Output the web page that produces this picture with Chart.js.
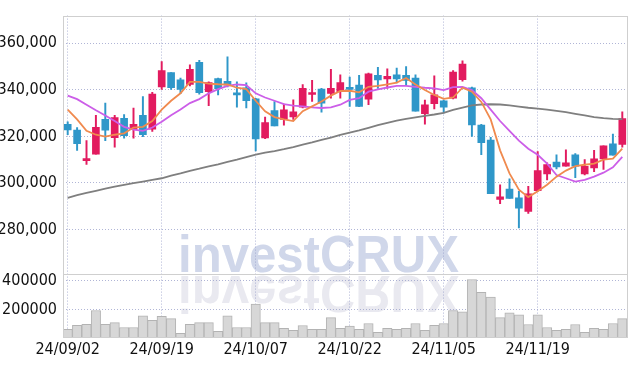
<!DOCTYPE html>
<html>
<head>
<meta charset="utf-8">
<script src="https://cdn.jsdelivr.net/npm/chart.js@4/dist/chart.umd.min.js"></script>
<style>
  html, body { margin: 0; padding: 0; background: #fff; }
  #wrap { width: 637px; height: 366px; position: relative; }
</style>
</head>
<body>
<div id="wrap"><canvas id="stockChart"></canvas></div>
<script>
// trading days shown on the chart
const dates = [
  "24/09/02", "24/09/03", "24/09/04", "24/09/05", "24/09/06", "24/09/09", "24/09/10", "24/09/11", "24/09/12", "24/09/13",
  "24/09/19", "24/09/20", "24/09/23", "24/09/24", "24/09/25", "24/09/26", "24/09/27", "24/09/30", "24/10/02", "24/10/04",
  "24/10/07", "24/10/08", "24/10/10", "24/10/11", "24/10/14", "24/10/15", "24/10/16", "24/10/17", "24/10/18", "24/10/21",
  "24/10/22", "24/10/23", "24/10/24", "24/10/25", "24/10/28", "24/10/29", "24/10/30", "24/10/31", "24/11/01", "24/11/04",
  "24/11/05", "24/11/06", "24/11/07", "24/11/08", "24/11/11", "24/11/12", "24/11/13", "24/11/14", "24/11/15", "24/11/18",
  "24/11/19", "24/11/20", "24/11/21", "24/11/22", "24/11/25", "24/11/26", "24/11/27", "24/11/28", "24/11/29", "24/12/02"
];

const openP = [
  325200, 322700, 309600, 312300, 327300, 319400, 327700, 322900, 329000, 323100,
  341300, 347400, 344300, 342300, 351800, 339200, 344800, 343700, 338500, 340900,
  336100, 319300, 331100, 327300, 328400, 332500, 338000, 340300, 338500, 339200,
  340600, 342000, 336000, 346200, 344700, 346500, 346200, 345100, 329800, 334000,
  335300, 336400, 344400, 340900, 324800, 318400, 292900, 297400, 293600, 287700,
  296700, 303900, 309000, 307200, 312100, 303900, 306400, 310300, 316800, 316500
];
const highP = [
  326300, 323800, 318200, 329000, 334300, 329000, 329400, 332200, 337100, 338900,
  352100, 347400, 345100, 350700, 352700, 343400, 345100, 354200, 343400, 343000,
  336400, 328300, 335000, 333900, 335700, 342300, 344100, 340600, 348800, 346500,
  345500, 346200, 347200, 349700, 349000, 349300, 350000, 346500, 335600, 346000,
  335600, 348300, 352500, 341200, 325200, 319600, 299200, 301700, 296400, 298500,
  313500, 308600, 312100, 314200, 312600, 310000, 314000, 315900, 321000, 330500
];
const lowP = [
  320700, 314000, 307900, 312300, 318200, 315400, 319200, 319200, 319900, 322100,
  340200, 340200, 338400, 341700, 338100, 333200, 337800, 341300, 332500, 332200,
  313700, 319000, 324500, 324800, 327300, 332200, 335000, 330400, 336400, 336400,
  332900, 332800, 333600, 340600, 340600, 343000, 342000, 330800, 325200, 331800,
  330100, 336100, 343700, 320000, 312100, 295400, 291100, 293300, 280700, 286900,
  296400, 301300, 306000, 307200, 302300, 303400, 304800, 305800, 311900, 315400
];
const closeP = [
  322800, 316900, 310400, 323900, 322700, 328100, 320300, 325200, 320700, 338200,
  348300, 340900, 340200, 348800, 338800, 343100, 340500, 342000, 337800, 335300,
  318900, 325900, 324500, 331400, 330500, 340600, 338500, 334300, 340600, 343100,
  340200, 332900, 346900, 344300, 345800, 344700, 344000, 330800, 333600, 337800,
  332500, 347600, 351100, 324900, 317300, 295400, 294000, 293300, 289100, 295300,
  305300, 307900, 306900, 308600, 307200, 307100, 310300, 315900, 311900, 327600
];
const volume = [
  66700, 95300, 102000, 195300, 102000, 113000, 80000, 80000, 160000, 128700,
  155300, 140000, 40000, 102000, 113000, 113000, 53300, 160000, 80000, 80000,
  240000, 113000, 113000, 73300, 60000, 93300, 66700, 66700, 146700, 73300,
  88700, 66700, 106700, 46700, 73300, 66700, 73300, 106700, 60000, 95300,
  106700, 195300, 186700, 406700, 320000, 286700, 146700, 180000, 166700, 100000,
  166700, 80000, 60000, 66700, 100000, 46700, 73300, 66700, 106700, 140000
];
const ma5 = [
  331500, 327300, 322400, 320700, 319900, 320700, 321300, 323800, 324100, 326600,
  331500, 335300, 338500, 343400, 343400, 342700, 342400, 342300, 340900, 340300,
  335300, 330800, 328300, 327300, 326600, 330800, 332900, 335000, 337500, 339500,
  339600, 338900, 341300, 341700, 342300, 343100, 345100, 342300, 339900, 337800,
  336100, 336700, 340900, 339200, 334800, 327300, 314000, 304100, 297100, 293900,
  296400, 299200, 302700, 305300, 307200, 307800, 308300, 310000, 310400, 314700
];
const ma20 = [
  337500, 336000, 333600, 331200, 329000, 326600, 324100, 322900, 322400, 323800,
  326300, 329100, 331500, 334300, 336000, 338500, 340300, 341700, 342300, 342000,
  338500, 336700, 335300, 333900, 333200, 332900, 332500, 332200, 332500, 333600,
  335700, 336400, 339200, 340200, 341000, 341700, 341700, 341300, 340900, 340600,
  339900, 341200, 341300, 339900, 336400, 331500, 326600, 322400, 318200, 314700,
  312100, 308300, 303400, 302000, 300600, 301300, 302700, 304400, 306700, 311200
];
const ma60 = [
  293600, 294700, 295700, 296600, 297500, 298400, 299200, 299900, 300600, 301300,
  302000, 303100, 304100, 305200, 306100, 307100, 308000, 309000, 310000, 311100,
  312200, 313000, 313700, 314500, 315400, 316400, 317400, 318500, 319500, 320600,
  321600, 322600, 323700, 324800, 325800, 326800, 327500, 328200, 328800, 329400,
  330100, 331400, 332400, 333300, 333700, 333800, 333700, 333300, 332800, 332300,
  331900, 331500, 331000, 330400, 329700, 329000, 328300, 327800, 327500, 327400
];
const priceTicks = [280000, 300000, 320000, 340000, 360000];
const volTicks = [200000, 400000];

const UP = "#e21b5f";
const DOWN = "#2f97c9";
const GRID = "rgba(150,156,200,0.75)";
const tickFont = { family: "'Liberation Sans Narrow', 'DejaVu Sans Condensed', sans-serif", size: 16 };

const candleColors = openP.map((o, i) => (closeP[i] >= o ? UP : DOWN));

// watermark drawn under the grid, with its reflection
const watermark = {
  id: "watermark",
  beforeDraw(chart) {
    const ctx = chart.ctx;
    const base = chart.scales.yPrice.bottom;
    const txt = "investCRUX";
    ctx.save();
    ctx.font = "bold 52px 'Liberation Sans', Arial, sans-serif";
    const w = ctx.measureText(txt).width;
    const sx = 281 / w;
    const left = chart.width / 2 - 140.5;
    ctx.save();
    ctx.translate(left, base - 2);
    ctx.scale(sx, 1);
    ctx.fillStyle = "#d0d7ea";
    ctx.fillText(txt, 0, 0);
    ctx.restore();
    ctx.translate(left, base + 2.5);
    ctx.scale(sx, -1);
    ctx.fillStyle = "#e9e9f0";
    ctx.fillText(txt, 0, 0);
    ctx.restore();
  }
};

// outer frame and the line between the two panes
const frame = {
  id: "frame",
  afterDraw(chart) {
    const { ctx, chartArea } = chart;
    const sep = chart.scales.yPrice.bottom;
    ctx.save();
    ctx.strokeStyle = "#cfcfcf";
    ctx.lineWidth = 1;
    ctx.strokeRect(Math.round(chartArea.left) + 0.5, Math.round(chartArea.top) + 0.5,
      Math.round(chartArea.right - chartArea.left), Math.round(chartArea.bottom - chartArea.top));
    ctx.beginPath();
    ctx.moveTo(chartArea.left, Math.round(sep) + 0.5);
    ctx.lineTo(chartArea.right, Math.round(sep) + 0.5);
    ctx.stroke();
    ctx.restore();
  }
};

const ctx = document.getElementById("stockChart").getContext("2d");
new Chart(ctx, {
  data: {
    labels: dates,
    datasets: [
      {
        type: "line", label: "MA5", data: ma5, yAxisID: "yPrice",
        borderColor: "#f08a4e", borderWidth: 1.8, pointRadius: 0, order: 0
      },
      {
        type: "line", label: "MA20", data: ma20, yAxisID: "yPrice",
        borderColor: "#cc5ee8", borderWidth: 1.8, pointRadius: 0, order: 0
      },
      {
        type: "line", label: "MA60", data: ma60, yAxisID: "yPrice",
        borderColor: "#7f7f7f", borderWidth: 1.8, pointRadius: 0, order: 0
      },
      {
        type: "bar", label: "body", yAxisID: "yPrice",
        data: openP.map((o, i) => [o, closeP[i]]),
        backgroundColor: candleColors, barThickness: 7, minBarLength: 2,
        grouped: false, order: 1
      },
      {
        type: "bar", label: "wick", yAxisID: "yPrice",
        data: lowP.map((l, i) => [l, highP[i]]),
        backgroundColor: candleColors, barThickness: 1.3,
        grouped: false, order: 2
      },
      {
        type: "bar", label: "volume", yAxisID: "yVol", data: volume,
        backgroundColor: "#d7d7d7", borderColor: "#b3b3b3", borderWidth: 1,
        categoryPercentage: 1, barPercentage: 1, grouped: false, order: 3
      }
    ]
  },
  options: {
    responsive: true,
    maintainAspectRatio: false,
    animation: false,
    layout: { padding: { top: 9, right: 10, left: 0, bottom: 0 } },
    plugins: {
      legend: { display: false },
      tooltip: { enabled: false }
    },
    scales: {
      x: {
        type: "category",
        offset: true,
        grid: {
          offset: false,
          drawTicks: false,
          color: (c) => (c.index % 10 === 0 ? GRID : "transparent")
        },
        border: { display: false, dash: [1, 2] },
        ticks: {
          autoSkip: false,
          maxRotation: 0,
          padding: 3,
          color: "#111",
          font: tickFont,
          callback: (v, i) => (i % 10 === 0 ? dates[i] : "")
        },
        afterFit: (s) => { s.height = 29; }
      },
      yVol: {
        position: "left",
        stack: "panes",
        stackWeight: 64.4,
        min: 15000,
        max: 445000,
        afterBuildTicks: (s) => { s.ticks = volTicks.map((v) => ({ value: v })); },
        grid: { drawTicks: false, color: GRID },
        border: { display: false, dash: [1, 2] },
        ticks: { padding: 6, color: "#111", font: tickFont, callback: (v) => String(v) },
        afterFit: (s) => { s.width = 63; }
      },
      yPrice: {
        position: "left",
        stack: "panes",
        stackWeight: 263.6,
        min: 260900,
        max: 371900,
        afterBuildTicks: (s) => { s.ticks = priceTicks.map((v) => ({ value: v })); },
        grid: { drawTicks: false, color: GRID },
        border: { display: false, dash: [1, 2] },
        ticks: {
          padding: 6, color: "#111", font: tickFont,
          callback: (v) => Number(v).toLocaleString("en-US")
        },
        afterFit: (s) => { s.width = 63; }
      }
    }
  },
  plugins: [watermark, frame]
});
</script>
</body>
</html>
